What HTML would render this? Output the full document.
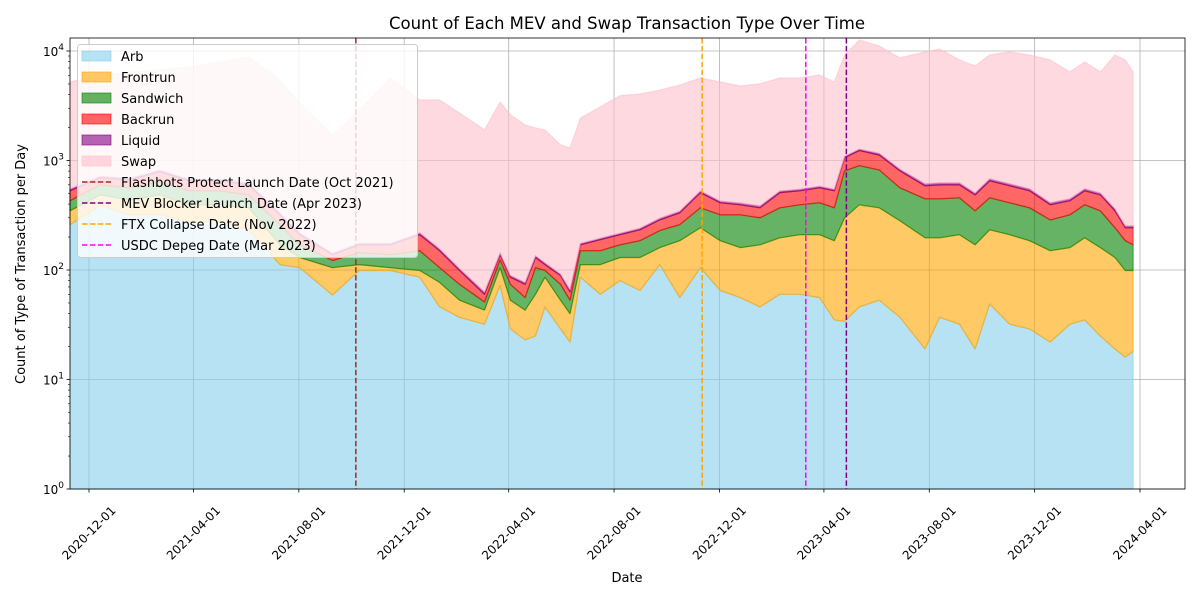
<!DOCTYPE html>
<html><head><meta charset="utf-8"><style>
body{margin:0;background:#fff;font-family:"Liberation Sans","DejaVu Sans",sans-serif}
svg text{font-family:"DejaVu Sans","Liberation Sans",sans-serif;fill:#000}
</style></head><body>
<svg id="chart" width="1200" height="600" viewBox="0 0 1200 600" xmlns="http://www.w3.org/2000/svg">
<rect width="1200" height="600" fill="#fff"/>
<g id="grid"></g><g id="areas"></g><g id="vlines"></g><g id="axes"></g><g id="legend"></g>
<text x="627" y="29" font-size="16.5" text-anchor="middle">Count of Each MEV and Swap Transaction Type Over Time</text>
<text x="627" y="582" font-size="13" text-anchor="middle">Date</text>
<text transform="translate(25,264) rotate(-90)" font-size="13" text-anchor="middle">Count of Type of Transaction per Day</text>
</svg>
<script>
const dates=["2020-11-09","2020-12-14","2021-01-17","2021-02-21","2021-03-27","2021-05-01","2021-06-04","2021-07-10","2021-08-02","2021-09-09","2021-10-10","2021-11-15","2021-12-19","2022-01-11","2022-02-03","2022-03-04","2022-03-22","2022-04-03","2022-04-20","2022-05-02","2022-05-13","2022-05-31","2022-06-11","2022-06-23","2022-07-16","2022-08-08","2022-08-31","2022-09-23","2022-10-16","2022-11-09","2022-12-02","2022-12-25","2023-01-17","2023-02-09","2023-03-04","2023-03-27","2023-04-13","2023-04-25","2023-05-12","2023-06-04","2023-06-28","2023-07-27","2023-08-13","2023-09-05","2023-09-23","2023-10-10","2023-11-02","2023-11-25","2023-12-19","2024-01-11","2024-01-28","2024-02-15","2024-03-03","2024-03-15","2024-03-24"];
const arb=[258,390,318,318,275,275,232,111,104,58,98,98,85,45,36,31,71,28,22,24,45,28,21,85,59,79,64,111,55,104,64,55,45,59,59,55,34,33,45,52,36,18,36,31,18,48,31,28,21,31,34,24,18,15,17];
const frontrun=[88,94,118,166,118,118,137,58,25,46,13,6,13,31,16,11,33,24,20,35,40,24,18,26,52,50,65,48,129,138,120,104,124,137,150,154,150,266,348,317,245,178,160,178,151,184,178,156,128,128,162,135,111,83,81];
const sandwich=[82,114,126,153,135,135,115,89,40,17,32,33,51,28,21,8,19,21,13,45,13,21,13,38,38,40,55,69,74,127,134,159,130,173,184,201,185,504,502,450,281,250,250,246,177,223,201,185,137,159,197,187,113,86,71];
const backrun=[100,96,103,152,123,123,114,60,40,16,26,32,60,45,25,9,14,12,18,25,13,15,10,20,39,40,48,58,73,139,92,75,70,139,135,152,159,257,335,303,241,141,152,143,138,196,177,159,107,110,135,138,104,58,73];
const liquid=[20,25,25,30,25,25,25,15,10,5,6,6,8,6,4,3,5,3,3,5,4,3,3,5,6,7,8,10,12,18,15,15,15,18,18,20,18,30,40,40,30,25,25,25,20,28,25,22,18,18,22,20,15,10,10];
const swap=[4660,5320,5740,5880,6460,7250,8190,5100,3130,1570,2710,5490,3350,3410,2610,1840,3280,2520,2030,1850,1780,1295,1235,2270,2890,3700,3810,4100,4540,5140,4780,4380,4620,5140,5120,5460,4660,8100,11300,9940,7800,9180,9810,7650,6790,8510,9180,8640,7860,5980,7390,5930,8830,8020,6180];
const yTicks=[0,1,2,3,4];
const xTickLabels=["2020-12-01","2021-04-01","2021-08-01","2021-12-01","2022-04-01","2022-08-01","2022-12-01","2023-04-01","2023-08-01","2023-12-01","2024-04-01"];
const eventDates=["2021-10-06","2022-11-11","2023-03-11","2023-04-27"];
const eventNames=["flashbots-line","ftx-line","usdc-line","mev-blocker-line"];
const eventColors=["#a52a2a","orange","magenta","purple"];

const NS="http://www.w3.org/2000/svg";
const L=70,R=1185,T=38,B=489;
const t0=Date.UTC(2020,11,1), pxPerDay=1051/1217;
function xs(d){return 89+(Date.parse(d)-t0)/86400000*pxPerDay;}
function ys(v){return B-Math.log10(Math.max(v,1))*109.5;}
function mk(tag,attrs,parent){const e=document.createElementNS(NS,tag);for(const k in attrs)e.setAttribute(k,attrs[k]);parent.appendChild(e);return e;}
const grid=document.getElementById('grid'),areas=document.getElementById('areas'),vl=document.getElementById('vlines'),axes=document.getElementById('axes'),leg=document.getElementById('legend');

yTicks.forEach(t=>{const y=ys(Math.pow(10,t));
 const g=mk('line',{x1:L,x2:R,y1:y,y2:y,stroke:'#b0b0b0','stroke-width':0.8},grid);
 
 
 const tk=mk('line',{x1:L-3.5,x2:L,y1:y,y2:y,stroke:'#000','stroke-width':0.8},axes);
 
 
 const tx=mk('text',{x:L-6,y:y+5,'font-size':12,'text-anchor':'end'},axes);
 
 
 tx.innerHTML='10<tspan dy="-6" font-size="9">'+t+'</tspan>';
 for(let m=2;m<10&&t<4;m++){const ym=ys(m*Math.pow(10,t));
  const mt=mk('line',{x1:L-2,x2:L,y1:ym,y2:ym,stroke:'#000','stroke-width':0.6},axes);
  
  }
});
xTickLabels.forEach(d=>{const x=xs(d);
 const g=mk('line',{x1:x,x2:x,y1:T,y2:B,stroke:'#b0b0b0','stroke-width':0.8},grid);
 
 
 const tk=mk('line',{x1:x,x2:x,y1:B,y2:B+3.5,stroke:'#000','stroke-width':0.8},axes);
 
 
 const cy=B+44;
 const tx=mk('text',{x:x,y:cy+4,'font-size':12,'text-anchor':'middle',transform:`rotate(-45 ${x} ${cy})`},axes);
 
 
 tx.textContent=d;
});

const series=[arb,frontrun,sandwich,backrun,liquid,swap];
const sNames=['arb-area','frontrun-area','sandwich-area','backrun-area','liquid-area','swap-area'];
const fills=['#87ceeb','#ffa500','#008000','#ff0000','#800080','#ffc0cb'];
const xsArr=dates.map(xs);
let base=dates.map(()=>1);
series.forEach((s,i)=>{
 const top=base.map((b,j)=>b+s[j]);
 let d='M'+xsArr.map((x,j)=>x.toFixed(1)+','+ys(top[j]).toFixed(1)).join('L');
 for(let j=xsArr.length-1;j>=0;j--)d+='L'+xsArr[j].toFixed(1)+','+ys(base[j]).toFixed(1);
 d+='Z';
 const p=mk('path',{d:d,fill:fills[i],'fill-opacity':0.6,stroke:fills[i],'stroke-opacity':0.6,'stroke-width':1.2,'stroke-linejoin':'round'},areas);
 
 
 base=top;
});

eventDates.forEach((d,i)=>{const x=xs(d);
 const l=mk('line',{x1:x,x2:x,y1:T,y2:B,stroke:eventColors[i],'stroke-width':1.5,'stroke-dasharray':'5.5 2.4'},vl);
 
 
});

const fr=mk('rect',{x:L,y:T,width:R-L,height:B-T,fill:'none',stroke:'#000','stroke-width':0.8},axes);



const lb=mk('rect',{x:77.5,y:44.5,width:340,height:213,rx:3,fill:'#fff','fill-opacity':0.8,stroke:'#ccc','stroke-width':1},leg);


const legLabels=['Arb','Frontrun','Sandwich','Backrun','Liquid','Swap','Flashbots Protect Launch Date (Oct 2021)','MEV Blocker Launch Date (Apr 2023)','FTX Collapse Date (Nov 2022)','USDC Depeg Date (Mar 2023)'];
const lineCols=['#a52a2a','purple','orange','magenta'];
legLabels.forEach((lab,i)=>{const cy=56+i*21;
 const g=mk('g',{},leg);
 
 
 if(i<6){mk('rect',{x:82,y:cy-5,width:29,height:10,fill:fills[i],'fill-opacity':0.6,stroke:fills[i],'stroke-opacity':0.6},g);}
 else{mk('line',{x1:82,x2:111,y1:cy,y2:cy,stroke:lineCols[i-6],'stroke-width':1.5,'stroke-dasharray':'5.5 2.4'},g);}
 const t=mk('text',{x:121,y:cy+5,'font-size':13},g);t.textContent=lab;
});
</script>
</body></html>
